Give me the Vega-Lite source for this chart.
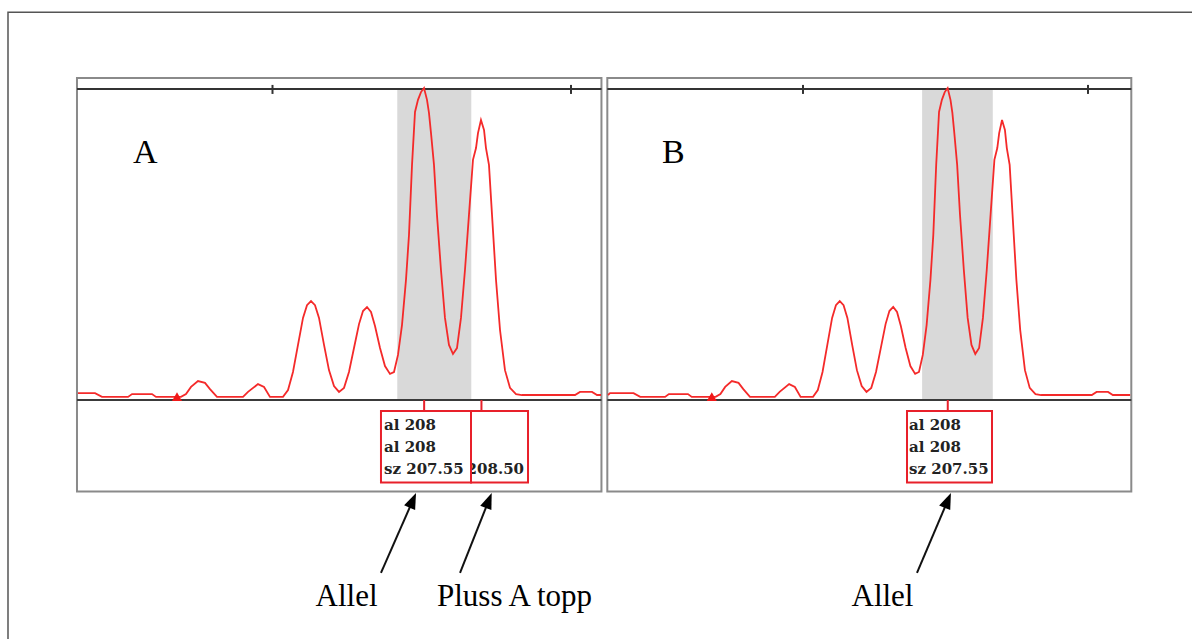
{
  "$schema": "https://vega.github.io/schema/vega-lite/v6.json",
  "width": 1192,
  "height": 639,
  "padding": 0,
  "autosize": {"type": "fit", "contains": "padding"},
  "background": "white",
  "config": {"view": {"stroke": null}},
  "datasets": {
    "trace": [
      {"bp": 201.579, "rfu": 16}, {"bp": 201.614, "rfu": 22}, {"bp": 201.742, "rfu": 22}, {"bp": 202.027, "rfu": 22},
      {"bp": 202.144, "rfu": 10}, {"bp": 202.58, "rfu": 10}, {"bp": 202.647, "rfu": 19}, {"bp": 202.982, "rfu": 19},
      {"bp": 203.049, "rfu": 10}, {"bp": 203.467, "rfu": 10}, {"bp": 203.551, "rfu": 19}, {"bp": 203.635, "rfu": 42},
      {"bp": 203.752, "rfu": 61}, {"bp": 203.869, "rfu": 55}, {"bp": 203.953, "rfu": 35}, {"bp": 204.07, "rfu": 10},
      {"bp": 204.506, "rfu": 10}, {"bp": 204.59, "rfu": 26}, {"bp": 204.757, "rfu": 51}, {"bp": 204.858, "rfu": 42},
      {"bp": 204.958, "rfu": 10}, {"bp": 205.176, "rfu": 10}, {"bp": 205.26, "rfu": 32}, {"bp": 205.343, "rfu": 90},
      {"bp": 205.427, "rfu": 177}, {"bp": 205.511, "rfu": 264}, {"bp": 205.578, "rfu": 305}, {"bp": 205.645, "rfu": 318},
      {"bp": 205.712, "rfu": 305}, {"bp": 205.779, "rfu": 264}, {"bp": 205.863, "rfu": 177}, {"bp": 205.946, "rfu": 96},
      {"bp": 206.03, "rfu": 45}, {"bp": 206.114, "rfu": 26}, {"bp": 206.198, "rfu": 39}, {"bp": 206.281, "rfu": 90},
      {"bp": 206.365, "rfu": 167}, {"bp": 206.449, "rfu": 244}, {"bp": 206.516, "rfu": 286}, {"bp": 206.583, "rfu": 299},
      {"bp": 206.65, "rfu": 283}, {"bp": 206.717, "rfu": 238}, {"bp": 206.801, "rfu": 167}, {"bp": 206.884, "rfu": 109},
      {"bp": 206.968, "rfu": 84}, {"bp": 207.035, "rfu": 90}, {"bp": 207.102, "rfu": 145}, {"bp": 207.169, "rfu": 241},
      {"bp": 207.236, "rfu": 386}, {"bp": 207.286, "rfu": 530}, {"bp": 207.337, "rfu": 756}, {"bp": 207.387, "rfu": 926},
      {"bp": 207.437, "rfu": 965}, {"bp": 207.487, "rfu": 990}, {"bp": 207.538, "rfu": 1003}, {"bp": 207.588, "rfu": 965},
      {"bp": 207.621, "rfu": 923}, {"bp": 207.655, "rfu": 858}, {"bp": 207.705, "rfu": 756}, {"bp": 207.755, "rfu": 595},
      {"bp": 207.822, "rfu": 418}, {"bp": 207.889, "rfu": 264}, {"bp": 207.956, "rfu": 177}, {"bp": 208.023, "rfu": 148},
      {"bp": 208.09, "rfu": 167}, {"bp": 208.157, "rfu": 264}, {"bp": 208.224, "rfu": 418}, {"bp": 208.291, "rfu": 595},
      {"bp": 208.358, "rfu": 772}, {"bp": 208.409, "rfu": 810}, {"bp": 208.442, "rfu": 858}, {"bp": 208.492, "rfu": 900},
      {"bp": 208.543, "rfu": 868}, {"bp": 208.576, "rfu": 810}, {"bp": 208.626, "rfu": 756}, {"bp": 208.677, "rfu": 595},
      {"bp": 208.744, "rfu": 386}, {"bp": 208.811, "rfu": 225}, {"bp": 208.894, "rfu": 96}, {"bp": 208.978, "rfu": 39},
      {"bp": 209.079, "rfu": 19}, {"bp": 209.179, "rfu": 16}, {"bp": 210.067, "rfu": 16}, {"bp": 210.151, "rfu": 26},
      {"bp": 210.352, "rfu": 26}, {"bp": 210.436, "rfu": 16}, {"bp": 210.503, "rfu": 16}, {"bp": 210.74, "rfu": 16}
    ],
    "frames": [
      {"panel": "A", "x1": 201.725, "x2": 210.51},
      {"panel": "B", "x1": 201.567, "x2": 210.76}
    ],
    "outer": [{"x1": 200.5695, "x2": 240, "y1": 1247, "y2": -1200}],
    "bins": [{"start": 207.09, "end": 208.33}],
    "ticks": [{"bp": 205}, {"bp": 210}],
    "markers": [{"bp": 203.4, "rfu": 11}],
    "boxes": [
      {"panel": "A", "box": "plusA", "peak": 208.5, "left": 208.325, "right": 209.28},
      {"panel": "A", "box": "allele", "peak": 207.54, "left": 206.817, "right": 208.325},
      {"panel": "B", "box": "allele", "peak": 207.54, "left": 206.825, "right": 208.316}
    ],
    "boxtext": [
      {"panel": "A", "box": "plusA", "x": 209.213, "y": -222, "text": "sz 208.50"},
      {"panel": "A", "box": "allele", "x": 206.868, "y": -80, "text": "al 208"},
      {"panel": "A", "box": "allele", "x": 206.868, "y": -151, "text": "al 208"},
      {"panel": "A", "box": "allele", "x": 206.868, "y": -222, "text": "sz 207.55"},
      {"panel": "B", "box": "allele", "x": 206.86, "y": -80, "text": "al 208"},
      {"panel": "B", "box": "allele", "x": 206.86, "y": -151, "text": "al 208"},
      {"panel": "B", "box": "allele", "x": 206.86, "y": -222, "text": "sz 207.55"}
    ],
    "arrows": [
      {"panel": "A", "x0": 206.817, "y0": -556, "hx": 207.337, "hy": -328.6, "dir": 23.6},
      {"panel": "A", "x0": 208.141, "y0": -556, "hx": 208.61, "hy": -329, "dir": 21.6},
      {"panel": "B", "x0": 207.0, "y0": -556, "hx": 207.527, "hy": -328.6, "dir": 23.0}
    ],
    "captions": [
      {"panel": "A", "x": 206.24, "text": "Allel"},
      {"panel": "A", "x": 209.054, "text": "Pluss A topp"},
      {"panel": "B", "x": 206.395, "text": "Allel"}
    ],
    "letters": [
      {"panel": "A", "x": 202.663, "text": "A"},
      {"panel": "B", "x": 202.526, "text": "B"}
    ]
  },
  "resolve": {"scale": {"x": "independent"}},
  "layer": [
    {
      "layer": [
        {
          "data": {"name": "outer"},
          "mark": {"type": "rect", "filled": false, "color": "#555555", "strokeWidth": 1.5, "clip": true},
          "encoding": {
            "x": {"field": "x1", "type": "quantitative", "scale": {"domain": [200.4355, 220.402], "nice": false, "zero": false}, "axis": null},
            "x2": {"field": "x2"},
            "y": {"field": "y1", "type": "quantitative", "scale": {"domain": [-768.4, 1286], "nice": false, "zero": false}, "axis": null},
            "y2": {"field": "y2"}
          }
        },
        {
          "data": {"name": "frames"},
          "transform": [{"filter": "datum.panel === 'A'"}],
          "mark": {"type": "rect", "filled": false, "color": "#8a8a8a", "strokeWidth": 2},
          "encoding": {
            "x": {"field": "x1", "type": "quantitative"},
            "x2": {"field": "x2"},
            "y": {"datum": 1035, "type": "quantitative"},
            "y2": {"datum": -294}
          }
        },
        {
          "data": {"name": "bins"},
          "mark": {"type": "rect", "color": "#d9d9d9"},
          "encoding": {
            "x": {"field": "start", "type": "quantitative"},
            "x2": {"field": "end"},
            "y": {"datum": 1000, "type": "quantitative"},
            "y2": {"datum": 0}
          }
        },
        {
          "data": {"name": "frames"},
          "transform": [{"filter": "datum.panel === 'A'"}],
          "mark": {"type": "rule", "color": "#333333", "strokeWidth": 2},
          "encoding": {
            "x": {"field": "x1", "type": "quantitative"},
            "x2": {"field": "x2"},
            "y": {"datum": 1000, "type": "quantitative"}
          }
        },
        {
          "data": {"name": "ticks"},
          "mark": {"type": "rule", "color": "#333333", "strokeWidth": 2},
          "encoding": {
            "x": {"field": "bp", "type": "quantitative"},
            "y": {"datum": 1013, "type": "quantitative"},
            "y2": {"datum": 984}
          }
        },
        {
          "data": {"name": "frames"},
          "transform": [{"filter": "datum.panel === 'A'"}],
          "mark": {"type": "rule", "color": "#3a3a3a", "strokeWidth": 2},
          "encoding": {
            "x": {"field": "x1", "type": "quantitative"},
            "x2": {"field": "x2"},
            "y": {"datum": 0, "type": "quantitative"}
          }
        },
        {
          "data": {"name": "trace"},
          "transform": [{"filter": "datum.bp >= 201.73 && datum.bp <= 210.51"}],
          "mark": {"type": "line", "color": "#f42a2a", "strokeWidth": 1.8},
          "encoding": {
            "x": {"field": "bp", "type": "quantitative"},
            "y": {"field": "rfu", "type": "quantitative"}
          }
        },
        {
          "data": {"name": "markers"},
          "mark": {"type": "point", "shape": "triangle-up", "filled": true, "color": "#f01818", "size": 100, "opacity": 1},
          "encoding": {
            "x": {"field": "bp", "type": "quantitative"},
            "y": {"field": "rfu", "type": "quantitative"}
          }
        },
        {
          "data": {"name": "boxes"},
          "transform": [{"filter": "datum.panel === 'A'"}],
          "mark": {"type": "rule", "color": "#e8202a", "strokeWidth": 2},
          "encoding": {
            "x": {"field": "peak", "type": "quantitative"},
            "y": {"datum": 0, "type": "quantitative"},
            "y2": {"datum": -35}
          }
        },
        {
          "data": {"name": "boxes"},
          "transform": [{"filter": "datum.panel === 'A' && datum.box === 'plusA'"}],
          "mark": {"type": "rect", "fill": "white", "stroke": "#e8202a", "strokeWidth": 2},
          "encoding": {
            "x": {"field": "left", "type": "quantitative"},
            "x2": {"field": "right"},
            "y": {"datum": -35, "type": "quantitative"},
            "y2": {"datum": -265}
          }
        },
        {
          "data": {"name": "boxtext"},
          "transform": [{"filter": "datum.panel === 'A' && datum.box === 'plusA'"}],
          "mark": {"type": "text", "align": "right", "baseline": "middle", "font": "DejaVu Serif", "fontWeight": "bold", "fontSize": 15, "color": "#222222"},
          "encoding": {
            "x": {"field": "x", "type": "quantitative"},
            "y": {"field": "y", "type": "quantitative"},
            "text": {"field": "text"}
          }
        },
        {
          "data": {"name": "boxes"},
          "transform": [{"filter": "datum.panel === 'A' && datum.box === 'allele'"}],
          "mark": {"type": "rect", "fill": "white", "stroke": "#e8202a", "strokeWidth": 2},
          "encoding": {
            "x": {"field": "left", "type": "quantitative"},
            "x2": {"field": "right"},
            "y": {"datum": -35, "type": "quantitative"},
            "y2": {"datum": -265}
          }
        },
        {
          "data": {"name": "boxtext"},
          "transform": [{"filter": "datum.panel === 'A' && datum.box === 'allele'"}],
          "mark": {"type": "text", "align": "left", "baseline": "middle", "font": "DejaVu Serif", "fontWeight": "bold", "fontSize": 15, "color": "#222222"},
          "encoding": {
            "x": {"field": "x", "type": "quantitative"},
            "y": {"field": "y", "type": "quantitative"},
            "text": {"field": "text"}
          }
        },
        {
          "data": {"name": "arrows"},
          "transform": [{"filter": "datum.panel === 'A'"}],
          "mark": {"type": "rule", "color": "#111111", "strokeWidth": 2},
          "encoding": {
            "x": {"field": "x0", "type": "quantitative"},
            "x2": {"field": "hx"},
            "y": {"field": "y0", "type": "quantitative"},
            "y2": {"field": "hy"}
          }
        },
        {
          "data": {"name": "arrows"},
          "transform": [{"filter": "datum.panel === 'A'"}],
          "mark": {"type": "point", "shape": "M0,-1L0.6,0.6L-0.6,0.6Z", "filled": true, "color": "#000000", "size": 400, "opacity": 1},
          "encoding": {
            "x": {"field": "hx", "type": "quantitative"},
            "y": {"field": "hy", "type": "quantitative"},
            "angle": {"field": "dir", "type": "quantitative", "scale": null}
          }
        },
        {
          "data": {"name": "captions"},
          "transform": [{"filter": "datum.panel === 'A'"}],
          "mark": {"type": "text", "align": "center", "baseline": "alphabetic", "font": "Liberation Serif", "fontSize": 31, "color": "#000000"},
          "encoding": {
            "x": {"field": "x", "type": "quantitative"},
            "y": {"datum": -662, "type": "quantitative"},
            "text": {"field": "text"}
          }
        },
        {
          "data": {"name": "letters"},
          "transform": [{"filter": "datum.panel === 'A'"}],
          "mark": {"type": "text", "align": "left", "baseline": "alphabetic", "font": "Liberation Serif", "fontSize": 34, "color": "#000000"},
          "encoding": {
            "x": {"field": "x", "type": "quantitative"},
            "y": {"datum": 762, "type": "quantitative"},
            "text": {"field": "text"}
          }
        }
      ]
    },
    {
      "layer": [
        {
          "data": {"name": "frames"},
          "transform": [{"filter": "datum.panel === 'B'"}],
          "mark": {"type": "rect", "filled": false, "color": "#8a8a8a", "strokeWidth": 2},
          "encoding": {
            "x": {"field": "x1", "type": "quantitative", "scale": {"domain": [190.912, 211.825], "nice": false, "zero": false}, "axis": null},
            "x2": {"field": "x2"},
            "y": {"datum": 1035, "type": "quantitative"},
            "y2": {"datum": -294}
          }
        },
        {
          "data": {"name": "bins"},
          "mark": {"type": "rect", "color": "#d9d9d9"},
          "encoding": {
            "x": {"field": "start", "type": "quantitative"},
            "x2": {"field": "end"},
            "y": {"datum": 1000, "type": "quantitative"},
            "y2": {"datum": 0}
          }
        },
        {
          "data": {"name": "frames"},
          "transform": [{"filter": "datum.panel === 'B'"}],
          "mark": {"type": "rule", "color": "#333333", "strokeWidth": 2},
          "encoding": {
            "x": {"field": "x1", "type": "quantitative"},
            "x2": {"field": "x2"},
            "y": {"datum": 1000, "type": "quantitative"}
          }
        },
        {
          "data": {"name": "ticks"},
          "mark": {"type": "rule", "color": "#333333", "strokeWidth": 2},
          "encoding": {
            "x": {"field": "bp", "type": "quantitative"},
            "y": {"datum": 1013, "type": "quantitative"},
            "y2": {"datum": 984}
          }
        },
        {
          "data": {"name": "frames"},
          "transform": [{"filter": "datum.panel === 'B'"}],
          "mark": {"type": "rule", "color": "#3a3a3a", "strokeWidth": 2},
          "encoding": {
            "x": {"field": "x1", "type": "quantitative"},
            "x2": {"field": "x2"},
            "y": {"datum": 0, "type": "quantitative"}
          }
        },
        {
          "data": {"name": "trace"},
          "mark": {"type": "line", "color": "#f42a2a", "strokeWidth": 1.8},
          "encoding": {
            "x": {"field": "bp", "type": "quantitative"},
            "y": {"field": "rfu", "type": "quantitative"}
          }
        },
        {
          "data": {"name": "markers"},
          "mark": {"type": "point", "shape": "triangle-up", "filled": true, "color": "#f01818", "size": 100, "opacity": 1},
          "encoding": {
            "x": {"field": "bp", "type": "quantitative"},
            "y": {"field": "rfu", "type": "quantitative"}
          }
        },
        {
          "data": {"name": "boxes"},
          "transform": [{"filter": "datum.panel === 'B'"}],
          "mark": {"type": "rule", "color": "#e8202a", "strokeWidth": 2},
          "encoding": {
            "x": {"field": "peak", "type": "quantitative"},
            "y": {"datum": 0, "type": "quantitative"},
            "y2": {"datum": -35}
          }
        },
        {
          "data": {"name": "boxes"},
          "transform": [{"filter": "datum.panel === 'B'"}],
          "mark": {"type": "rect", "fill": "white", "stroke": "#e8202a", "strokeWidth": 2},
          "encoding": {
            "x": {"field": "left", "type": "quantitative"},
            "x2": {"field": "right"},
            "y": {"datum": -35, "type": "quantitative"},
            "y2": {"datum": -265}
          }
        },
        {
          "data": {"name": "boxtext"},
          "transform": [{"filter": "datum.panel === 'B'"}],
          "mark": {"type": "text", "align": "left", "baseline": "middle", "font": "DejaVu Serif", "fontWeight": "bold", "fontSize": 15, "color": "#222222"},
          "encoding": {
            "x": {"field": "x", "type": "quantitative"},
            "y": {"field": "y", "type": "quantitative"},
            "text": {"field": "text"}
          }
        },
        {
          "data": {"name": "arrows"},
          "transform": [{"filter": "datum.panel === 'B'"}],
          "mark": {"type": "rule", "color": "#111111", "strokeWidth": 2},
          "encoding": {
            "x": {"field": "x0", "type": "quantitative"},
            "x2": {"field": "hx"},
            "y": {"field": "y0", "type": "quantitative"},
            "y2": {"field": "hy"}
          }
        },
        {
          "data": {"name": "arrows"},
          "transform": [{"filter": "datum.panel === 'B'"}],
          "mark": {"type": "point", "shape": "M0,-1L0.6,0.6L-0.6,0.6Z", "filled": true, "color": "#000000", "size": 400, "opacity": 1},
          "encoding": {
            "x": {"field": "hx", "type": "quantitative"},
            "y": {"field": "hy", "type": "quantitative"},
            "angle": {"field": "dir", "type": "quantitative", "scale": null}
          }
        },
        {
          "data": {"name": "captions"},
          "transform": [{"filter": "datum.panel === 'B'"}],
          "mark": {"type": "text", "align": "center", "baseline": "alphabetic", "font": "Liberation Serif", "fontSize": 31, "color": "#000000"},
          "encoding": {
            "x": {"field": "x", "type": "quantitative"},
            "y": {"datum": -662, "type": "quantitative"},
            "text": {"field": "text"}
          }
        },
        {
          "data": {"name": "letters"},
          "transform": [{"filter": "datum.panel === 'B'"}],
          "mark": {"type": "text", "align": "left", "baseline": "alphabetic", "font": "Liberation Serif", "fontSize": 34, "color": "#000000"},
          "encoding": {
            "x": {"field": "x", "type": "quantitative"},
            "y": {"datum": 762, "type": "quantitative"},
            "text": {"field": "text"}
          }
        }
      ]
    }
  ]
}
